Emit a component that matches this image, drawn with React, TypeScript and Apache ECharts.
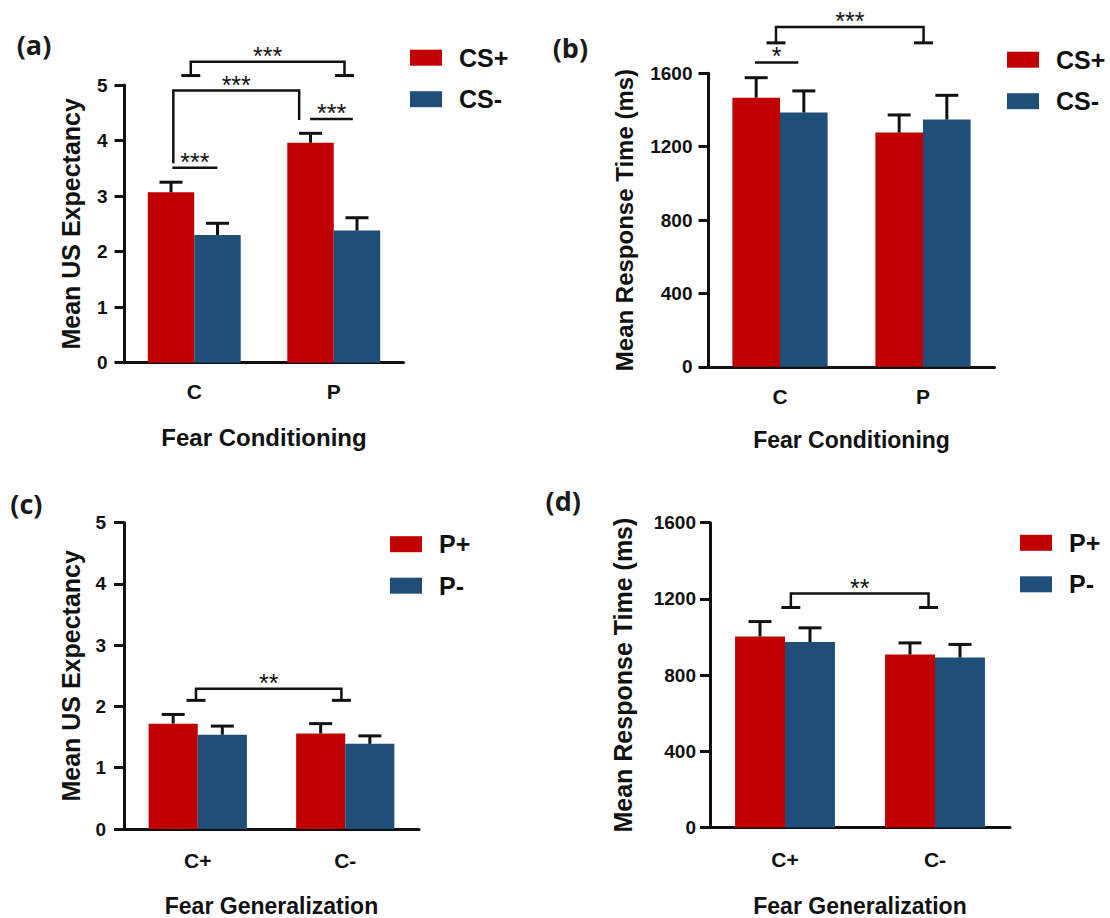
import React, { useEffect, useRef } from 'react';
import * as echarts from 'echarts';

// ---- categories ----
const condCategories = ['C', 'P'];
const genCategories = ['C+', 'C-'];

// ---- (a) Fear conditioning: mean US expectancy ----
const expCSPlus = [3.07, 3.96];
const expCSPlusSem = [0.18, 0.17];
const expCSMinus = [2.3, 2.38];
const expCSMinusSem = [0.21, 0.23];

// ---- (b) Fear conditioning: mean response time (ms) ----
const rtCSPlus = [1467, 1277];
const rtCSPlusSem = [109, 96];
const rtCSMinus = [1386, 1348];
const rtCSMinusSem = [118, 132];

// ---- (c) Fear generalization: mean US expectancy ----
const genExpPPlus = [1.72, 1.56];
const genExpPPlusSem = [0.15, 0.16];
const genExpPMinus = [1.54, 1.39];
const genExpPMinusSem = [0.14, 0.13];

// ---- (d) Fear generalization: mean response time (ms) ----
const genRtPPlus = [1003, 908];
const genRtPPlusSem = [78, 61];
const genRtPMinus = [974, 892];
const genRtPMinusSem = [74, 69];

// ---- axis ticks [min, max, interval] ----
const expTicks = [0, 5, 1];
const rtTicks = [0, 1600, 400];

// ---- significance annotations (x in category units from first category centre, y in data units) ----
const sigA = [
  { x1: -0.157, x2: 0.166, y: 3.51, label: '***' },
  { x1: 0.831, x2: 1.137, y: 4.39, label: '***' },
  { x1: -0.15, x2: 0.752, y: 4.9, legL: 3.59, legR: 4.37, label: '***' },
  { x1: -0.025, x2: 1.077, y: 5.42, legL: 5.17, legR: 5.17, feet: true, label: '***' },
];
const sigB = [
  { x1: -0.175, x2: 0.128, y: 1659, label: '*' },
  { x1: -0.028, x2: 1.004, y: 1853, legL: 1766, legR: 1766, feet: true, label: '***' },
];
const sigC = [
  { x1: -0.012, x2: 0.974, y: 2.29, legL: 2.1, legR: 2.1, feet: true, label: '**' },
];
const sigD = [
  { x1: 0.039, x2: 0.957, y: 1228, legL: 1155, legR: 1155, feet: true, label: '**' },
];

const RED = '#C00000';
const BLUE = '#1F4E79';
const INK = '#111111';
const FONT = 'Liberation Sans';

const panels = [
  {
    tag: '(a)', tagPos: [16.7, 44],
    grid: { left: 124.5, top: 85, width: 279, height: 277.7 },
    cats: condCategories, ticks: expTicks,
    s: [
      { name: 'CS+', data: expCSPlus, sem: expCSPlusSem, color: RED },
      { name: 'CS-', data: expCSMinus, sem: expCSMinusSem, color: BLUE },
    ],
    sig: sigA,
    yName: 'Mean US Expectancy', yGap: 41.5, ySize: 25, yLabelMargin: 17,
    xName: 'Fear Conditioning', xGap: 62.5, xSize: 24, xLabelMargin: 18,
    legend: { left: 410, top: 45.2 },
  },
  {
    tag: '(b)', tagPos: [552.7, 47],
    grid: { left: 708.5, top: 73.3, width: 286, height: 293.5 },
    cats: condCategories, ticks: rtTicks,
    s: [
      { name: 'CS+', data: rtCSPlus, sem: rtCSPlusSem, color: RED },
      { name: 'CS-', data: rtCSMinus, sem: rtCSMinusSem, color: BLUE },
    ],
    sig: sigB,
    yName: 'Mean Response Time (ms)', yGap: 72, ySize: 24, yLabelMargin: 16,
    xName: 'Fear Conditioning', xGap: 62, xSize: 23, xLabelMargin: 19,
    legend: { left: 1007, top: 47.2 },
  },
  {
    tag: '(c)', tagPos: [10.3, 503],
    grid: { left: 124, top: 522.7, width: 295, height: 307.3 },
    cats: genCategories, ticks: expTicks,
    s: [
      { name: 'P+', data: genExpPPlus, sem: genExpPPlusSem, color: RED },
      { name: 'P-', data: genExpPMinus, sem: genExpPMinusSem, color: BLUE },
    ],
    sig: sigC,
    yName: 'Mean US Expectancy', yGap: 41, ySize: 25, yLabelMargin: 18,
    xName: 'Fear Generalization', xGap: 65, xSize: 23, xLabelMargin: 20.5,
    legend: { left: 390, top: 531.7 },
  },
  {
    tag: '(d)', tagPos: [545.5, 500],
    grid: { left: 710, top: 522.7, width: 300, height: 308.3 },
    cats: genCategories, ticks: rtTicks,
    s: [
      { name: 'P+', data: genRtPPlus, sem: genRtPPlusSem, color: RED },
      { name: 'P-', data: genRtPMinus, sem: genRtPMinusSem, color: BLUE },
    ],
    sig: sigD,
    yName: 'Mean Response Time (ms)', yGap: 75, ySize: 25, yLabelMargin: 14,
    xName: 'Fear Generalization', xGap: 66.5, xSize: 23, xLabelMargin: 21,
    legend: { left: 1020, top: 530.3 },
  },
];

function errorRender(params: any, api: any) {
  const c = api.value(0);
  const mean = api.value(1);
  const sem = api.value(2);
  const k = api.value(3);
  const bw = api.size([1, 0])[0];
  const base = api.coord([c, mean]);
  const top = api.coord([c, mean + sem]);
  const x = base[0] + (k === 0 ? -1 : 1) * bw / 6;
  const st = { stroke: INK, lineWidth: 3 };
  return {
    type: 'group',
    children: [
      { type: 'line', shape: { x1: x, y1: base[1], x2: x, y2: top[1] }, style: st },
      { type: 'line', shape: { x1: x - 11.5, y1: top[1], x2: x + 11.5, y2: top[1] }, style: st },
    ],
  };
}

function sigRender(list: any[]) {
  return (params: any, api: any) => {
    const b = list[params.dataIndex];
    const o = api.coord([0, 0]);
    const bw = api.size([1, 0])[0];
    const px = (v: number) => o[0] + v * bw;
    const py = (v: number) => api.coord([0, v])[1];
    const x1 = px(b.x1);
    const x2 = px(b.x2);
    const yt = py(b.y);
    const st = { stroke: INK, lineWidth: 2.5, fill: 'none' };
    const children: any[] = [];
    if (b.legL != null) {
      children.push({
        type: 'polyline',
        shape: { points: [[x1, py(b.legL)], [x1, yt], [x2, yt], [x2, py(b.legR)]] },
        style: st,
      });
    } else {
      children.push({ type: 'line', shape: { x1, y1: yt, x2, y2: yt }, style: st });
    }
    if (b.feet) {
      const fl = py(b.legL);
      const fr = py(b.legR);
      children.push({ type: 'line', shape: { x1: x1 - 9.5, y1: fl, x2: x1 + 9.5, y2: fl }, style: { stroke: INK, lineWidth: 3 } });
      children.push({ type: 'line', shape: { x1: x2 - 9.5, y1: fr, x2: x2 + 9.5, y2: fr }, style: { stroke: INK, lineWidth: 3 } });
    }
    children.push({
      type: 'text',
      x: (x1 + x2) / 2,
      y: yt - 6,
      style: { text: b.label, fontSize: 25, fontFamily: FONT, fill: INK, align: 'center', verticalAlign: 'middle' },
    });
    return { type: 'group', children };
  };
}

function buildOption() {
  const grid: any[] = [];
  const xAxis: any[] = [];
  const yAxis: any[] = [];
  const series: any[] = [];
  const legend: any[] = [];
  const graphic: any[] = [];

  panels.forEach((p, i) => {
    grid.push({ ...p.grid, containLabel: false });
    xAxis.push({
      gridIndex: i,
      type: 'category',
      data: p.cats,
      axisLine: { lineStyle: { color: INK, width: 3 } },
      axisTick: { alignWithLabel: true, length: 11, lineStyle: { color: INK, width: 3 } },
      axisLabel: { fontSize: 21, fontWeight: 'bold', color: INK, margin: p.xLabelMargin, fontFamily: FONT },
      splitLine: { show: false },
      name: p.xName,
      nameLocation: 'middle',
      nameGap: p.xGap,
      nameTextStyle: { fontSize: p.xSize, fontWeight: 'bold', color: INK, fontFamily: FONT },
    });
    yAxis.push({
      gridIndex: i,
      type: 'value',
      min: p.ticks[0],
      max: p.ticks[1],
      interval: p.ticks[2],
      axisLine: { show: true, lineStyle: { color: INK, width: 3 } },
      axisTick: { show: true, length: 10, lineStyle: { color: INK, width: 3 } },
      axisLabel: {
        fontSize: 19,
        fontWeight: 'bold',
        color: INK,
        margin: p.yLabelMargin,
        fontFamily: FONT,
        formatter: (v: number) => String(v),
      },
      splitLine: { show: false },
      name: p.yName,
      nameLocation: 'middle',
      nameRotate: 90,
      nameGap: p.yGap,
      nameTextStyle: { fontSize: p.ySize, fontWeight: 'bold', color: INK, fontFamily: FONT },
    });
    p.s.forEach((s) => {
      series.push({
        type: 'bar',
        name: s.name,
        xAxisIndex: i,
        yAxisIndex: i,
        data: s.data,
        barWidth: '33.3%',
        barGap: '0%',
        itemStyle: { color: s.color },
        z: 2,
      });
    });
    const errData: any[] = [];
    p.s.forEach((s, k) => {
      s.data.forEach((v, c) => errData.push([c, v, s.sem[c], k]));
    });
    series.push({
      type: 'custom',
      name: 'err' + i,
      xAxisIndex: i,
      yAxisIndex: i,
      data: errData,
      encode: { x: 0, y: 1 },
      renderItem: errorRender,
      clip: false,
      silent: true,
      z: 5,
    });
    series.push({
      type: 'custom',
      name: 'sig' + i,
      xAxisIndex: i,
      yAxisIndex: i,
      data: p.sig.map((b) => [0, b.y]),
      encode: { x: 0, y: 1 },
      renderItem: sigRender(p.sig),
      clip: false,
      silent: true,
      z: 6,
    });
    legend.push({
      orient: 'vertical',
      left: p.legend.left,
      top: p.legend.top,
      padding: 0,
      itemWidth: 32,
      itemHeight: 16,
      itemGap: 16.5,
      icon: 'rect',
      selectedMode: false,
      data: [p.s[0].name, p.s[1].name],
      textStyle: { fontSize: 25, fontWeight: 'bold', color: INK, fontFamily: FONT, padding: [0, 0, 0, 12] },
    });
    graphic.push({
      type: 'text',
      x: p.tagPos[0],
      y: p.tagPos[1],
      style: {
        text: p.tag,
        fontSize: 27,
        fontWeight: 'bold',
        fontFamily: 'Open Sans',
        fill: '#1a1a1a',
        verticalAlign: 'middle',
      },
    });
  });

  return {
    animation: false,
    backgroundColor: '#ffffff',
    textStyle: { fontFamily: FONT },
    grid,
    xAxis,
    yAxis,
    series,
    legend,
    graphic,
  };
}

export default function App() {
  const ref = useRef<HTMLDivElement>(null);
  useEffect(() => {
    if (!ref.current) return;
    const chart = echarts.init(ref.current, undefined, { renderer: 'svg' });
    chart.setOption(buildOption() as any);
    return () => chart.dispose();
  }, []);
  return (
    <div
      ref={ref}
      style={{ position: 'absolute', left: 0, top: 0, width: 1110, height: 918, background: '#fff' }}
    />
  );
}
